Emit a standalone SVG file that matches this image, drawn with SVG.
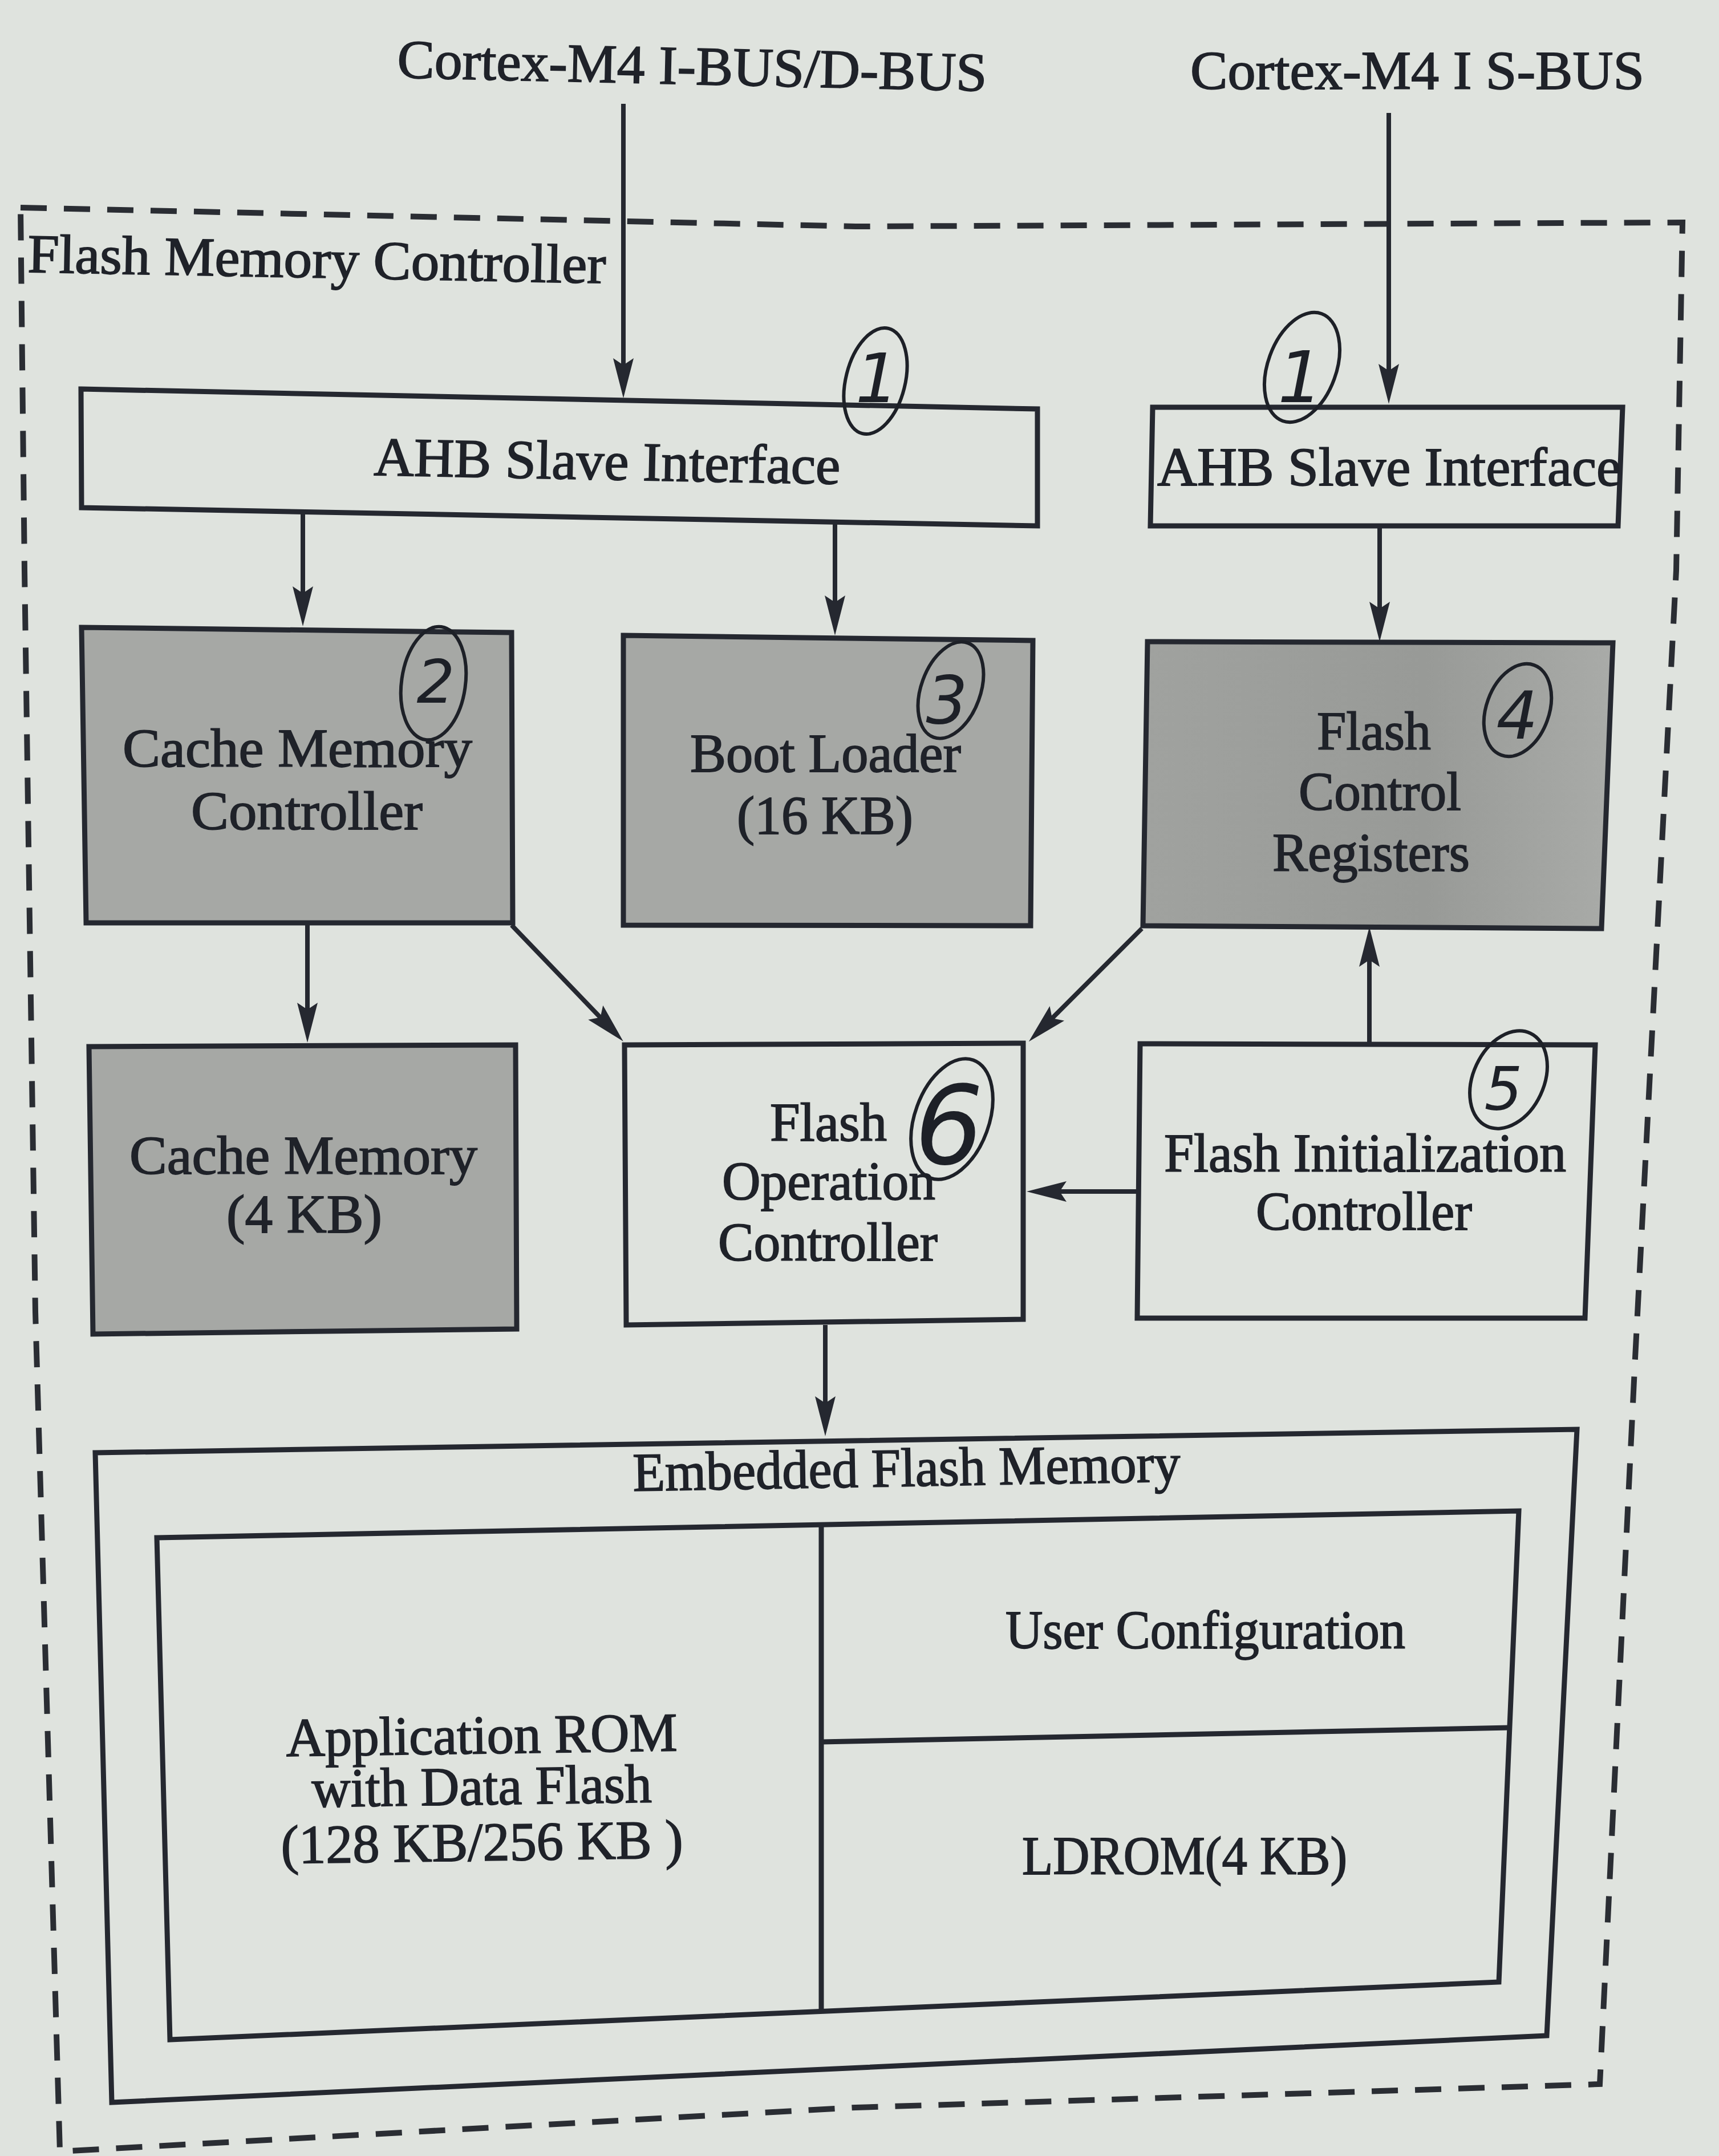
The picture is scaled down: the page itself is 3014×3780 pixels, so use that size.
<svg xmlns="http://www.w3.org/2000/svg" width="3014" height="3780" viewBox="0 0 3014 3780">
<style>
.bg{fill:#dfe3de}
.box{fill:#dfe3de;stroke:#252830;stroke-width:9;stroke-linejoin:miter}
.gbox{fill:#a6a8a5;stroke:#252830;stroke-width:9}
.frame{fill:none;stroke:#252830;stroke-width:9}
.dash{fill:none;stroke:#2a2d33;stroke-width:10;stroke-dasharray:46 30}
.t{font-family:"Liberation Serif","Times New Roman",serif;font-size:96px;fill:#1f2229;stroke:#1f2229;stroke-width:1.8}
.conn{fill:none;stroke:#252830;stroke-width:8}
.hand{fill:none;stroke:#1d2027;stroke-width:6}
.num{font-family:"DejaVu Sans","Liberation Sans",sans-serif;font-style:italic;fill:#1d2027;text-anchor:middle}
</style>
<defs>
<marker id="arr" markerUnits="userSpaceOnUse" markerWidth="80" markerHeight="44" refX="40" refY="22" orient="auto" viewBox="0 0 80 44">
<path d="M0,4 L70,22 L0,40 L12,22 Z" fill="#252830"/>
</marker>
<linearGradient id="fcr" x1="0" y1="0" x2="1" y2="0">
<stop offset="0" stop-color="#a0a29f"/>
<stop offset="0.6" stop-color="#989a97"/>
<stop offset="1" stop-color="#a9aba8"/>
</linearGradient>
</defs>
<rect class="bg" x="0" y="0" width="3014" height="3780"/>

<g id="flash-memory-controller">
<path class="dash" d="M36,364 L1500,397 L2950,390 L2939,1000 L2866,2400 L2805,3654 L1500,3695 L105,3772 L62,2300 L43,1000 Z"/>
<text class="t" x="48" y="477" textLength="1014" lengthAdjust="spacingAndGlyphs" transform="rotate(1.1 48 477)">Flash Memory Controller</text>
</g>

<g id="bus-idbus">
<text class="t" x="696" y="136" textLength="1034" lengthAdjust="spacingAndGlyphs" transform="rotate(1.3 696 136)">Cortex-M4 I-BUS/D-BUS</text>
</g>
<g id="bus-sbus">
<text class="t" x="2087" y="156" textLength="796" lengthAdjust="spacingAndGlyphs">Cortex-M4 I S-BUS</text>
</g>

<g id="ahb-slave-left">
<polygon class="box" points="142,682 1819,717 1819,922 143,890"/>
<text class="t" x="655" y="833" textLength="818" lengthAdjust="spacingAndGlyphs" transform="rotate(1.1 655 833)">AHB Slave Interface</text>
</g>

<g id="ahb-slave-right">
<polygon class="box" points="2021,714 2845,714 2837,922 2017,922"/>
<text class="t" x="2029" y="851" textLength="813" lengthAdjust="spacingAndGlyphs">AHB Slave Interface</text>
</g>

<g id="cache-memory-controller">
<polygon class="gbox" points="143,1100 897,1109 899,1618 151,1618"/>
<text class="t" x="215" y="1344" textLength="613" lengthAdjust="spacingAndGlyphs">Cache Memory</text>
<text class="t" x="335" y="1454" textLength="406" lengthAdjust="spacingAndGlyphs">Controller</text>
</g>

<g id="boot-loader">
<polygon class="gbox" points="1093,1114 1811,1123 1807,1623 1093,1622"/>
<text class="t" x="1210" y="1353" textLength="475" lengthAdjust="spacingAndGlyphs">Boot Loader</text>
<text class="t" x="1292" y="1462" textLength="309" lengthAdjust="spacingAndGlyphs">(16 KB)</text>
</g>

<g id="flash-control-registers">
<polygon class="gbox" style="fill:url(#fcr)" points="2012,1125 2828,1127 2808,1628 2004,1623"/>
<text class="t" x="2309" y="1314" textLength="200" lengthAdjust="spacingAndGlyphs">Flash</text>
<text class="t" x="2277" y="1420" textLength="285" lengthAdjust="spacingAndGlyphs">Control</text>
<text class="t" x="2231" y="1527" textLength="346" lengthAdjust="spacingAndGlyphs">Registers</text>
</g>

<g id="cache-memory">
<polygon class="gbox" points="156,1835 904,1832 906,2330 163,2339"/>
<text class="t" x="227" y="2058" textLength="610" lengthAdjust="spacingAndGlyphs">Cache Memory</text>
<text class="t" x="397" y="2161" textLength="273" lengthAdjust="spacingAndGlyphs">(4 KB)</text>
</g>

<g id="flash-operation-controller">
<polygon class="box" points="1095,1832 1794,1829 1794,2313 1098,2323"/>
<text class="t" x="1350" y="2000" textLength="205" lengthAdjust="spacingAndGlyphs">Flash</text>
<text class="t" x="1266" y="2103" textLength="374" lengthAdjust="spacingAndGlyphs">Operation</text>
<text class="t" x="1259" y="2210" textLength="385" lengthAdjust="spacingAndGlyphs">Controller</text>
</g>

<g id="flash-initialization-controller">
<polygon class="box" points="1999,1830 2797,1832 2779,2311 1994,2311"/>
<text class="t" x="2041" y="2054" textLength="705" lengthAdjust="spacingAndGlyphs">Flash Initialization</text>
<text class="t" x="2202" y="2156" textLength="379" lengthAdjust="spacingAndGlyphs">Controller</text>
</g>

<g id="embedded-flash-memory">
<path class="frame" d="M167,2547 L2765,2506 L2712,3569 L196,3686 Z"/>
<text class="t" x="1110" y="2614" textLength="960" lengthAdjust="spacingAndGlyphs" transform="rotate(-1 1110 2614)">Embedded Flash Memory</text>
<path class="frame" d="M275,2696 L2663,2649 L2628,3475 L298,3576 Z"/>
</g>

<g id="application-rom">
<text class="t" x="502" y="3079" textLength="686" lengthAdjust="spacingAndGlyphs" transform="rotate(-0.8 502 3079)">Application ROM</text>
<text class="t" x="547" y="3168" textLength="596" lengthAdjust="spacingAndGlyphs" transform="rotate(-0.8 547 3168)">with Data Flash</text>
<text class="t" x="493" y="3267" textLength="705" lengthAdjust="spacingAndGlyphs" transform="rotate(-0.8 493 3267)">(128 KB/256 KB )</text>
</g>

<g id="user-configuration">
<path class="frame" d="M1440,2673 L1440,3526"/>
<text class="t" x="1763" y="2890" textLength="701" lengthAdjust="spacingAndGlyphs">User Configuration</text>
</g>

<g id="ldrom">
<path class="frame" d="M1440,3054 L2647,3029"/>
<text class="t" x="1792" y="3286" textLength="570" lengthAdjust="spacingAndGlyphs">LDROM(4 KB)</text>
</g>

<g id="connectors">
<path class="conn" marker-end="url(#arr)" d="M1093,182 L1093,668"/>
<path class="conn" marker-end="url(#arr)" d="M2435,198 L2435,678"/>
<path class="conn" marker-end="url(#arr)" d="M531,897 L531,1068"/>
<path class="conn" marker-end="url(#arr)" d="M1464,915 L1464,1084"/>
<path class="conn" marker-end="url(#arr)" d="M2419,922 L2419,1095"/>
<path class="conn" marker-end="url(#arr)" d="M539,1618 L539,1798"/>
<path class="conn" marker-end="url(#arr)" d="M897,1622 L1072,1804"/>
<path class="conn" marker-end="url(#arr)" d="M2002,1628 L1825,1805"/>
<path class="conn" marker-end="url(#arr)" d="M2401,1830 L2401,1655"/>
<path class="conn" marker-end="url(#arr)" d="M1999,2089 L1830,2089"/>
<path class="conn" marker-end="url(#arr)" d="M1447,2323 L1447,2488"/>
</g>

<g id="annotations">
<ellipse class="hand" cx="1535" cy="668" rx="52" ry="95" transform="rotate(14 1535 668)"/>
<text class="num" x="1538" y="705" font-size="120">1</text>
<ellipse class="hand" cx="2283" cy="644" rx="60" ry="100" transform="rotate(20 2283 644)"/>
<text class="num" x="2280" y="705" font-size="125">1</text>
<ellipse class="hand" cx="760" cy="1198" rx="56" ry="100" transform="rotate(8 760 1198)"/>
<text class="num" x="764" y="1232" font-size="105">2</text>
<ellipse class="hand" cx="1667" cy="1210" rx="52" ry="88" transform="rotate(20 1667 1210)"/>
<text class="num" x="1660" y="1268" font-size="115">3</text>
<ellipse class="hand" cx="2661" cy="1245" rx="55" ry="84" transform="rotate(20 2661 1245)"/>
<text class="num" x="2660" y="1295" font-size="115">4</text>
<ellipse class="hand" cx="2645" cy="1893" rx="62" ry="90" transform="rotate(25 2645 1893)"/>
<text class="num" x="2636" y="1946" font-size="105">5</text>
<ellipse class="hand" cx="1669" cy="1962" rx="65" ry="110" transform="rotate(20 1669 1962)"/>
<text class="num" x="1664" y="2040" font-size="190">6</text>
</g>
</svg>
